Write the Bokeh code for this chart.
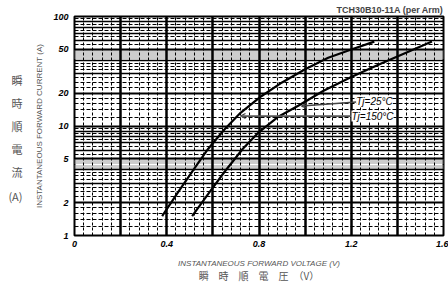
import numpy as np
from bokeh.plotting import figure
from bokeh.models import FixedTicker, Grid, Label, Arrow, OpenHead, Range1d, LinearAxis, Title
from bokeh.embed import file_html
from bokeh.resources import INLINE

# ---- data ----
v_150 = [0.38, 0.45, 0.52, 0.58, 0.65, 0.72, 0.81, 0.90, 1.00, 1.10, 1.20, 1.30]
i_150 = [1.5, 2.5, 4.1, 6.2, 9.3, 13.2, 18.7, 25.0, 33.0, 42.0, 50.0, 59.0]
v_25 = [0.51, 0.58, 0.65, 0.73, 0.80, 0.88, 0.97, 1.08, 1.20, 1.32, 1.44, 1.55]
i_25 = [1.5, 2.4, 3.8, 6.2, 8.8, 12.0, 15.3, 21.0, 28.0, 36.5, 47.0, 59.0]
x_ticks = [0, 0.4, 0.8, 1.2, 1.6]
y_ticks = [1, 2, 5, 10, 20, 50, 100]

p = figure(width=448, height=285, x_range=Range1d(0, 1.6), y_range=Range1d(1, 100),
           y_axis_type="log", output_backend="svg", toolbar_location=None,
           min_border_left=74, min_border_right=5, min_border_top=0, min_border_bottom=0)
p.outline_line_color = "black"
p.outline_line_width = 2
p.xgrid.visible = False
p.ygrid.visible = False

p.title = Title(text="TCH30B10-11A (per Arm)", align="right", text_font="Liberation Sans",
                text_font_style="bold", text_font_size="9px", standoff=4, offset=0)

# ---- grids ----
decades = [1, 10]
def mult(vals):
    return [d * v for d in decades for v in vals]

p.add_layout(Grid(dimension=1, ticker=FixedTicker(ticks=mult([4.1, 4.2, 4.3, 4.4, 4.5, 4.6, 4.7, 4.8, 4.9])),
                  grid_line_color="#9a9a9a", grid_line_width=1, grid_line_dash="1 1"))
p.add_layout(Grid(dimension=1, ticker=FixedTicker(ticks=mult([1.2, 1.4, 1.6, 1.8, 2.25, 2.5, 2.75, 3.25, 3.5, 3.75,
                                                             5.5, 6.5, 7.5, 8.5, 9.5])),
                  grid_line_color="black", grid_line_width=1, grid_line_dash="4 2"))
p.add_layout(Grid(dimension=1, ticker=FixedTicker(ticks=mult([3, 4, 6, 7, 8, 9])),
                  grid_line_color="black", grid_line_width=1.3))
p.add_layout(Grid(dimension=1, ticker=FixedTicker(ticks=mult([1, 2, 5]) + [100]),
                  grid_line_color="black", grid_line_width=2.2))
vmin = [round(0.04 * k, 2) for k in range(41) if k % 5 != 0]
p.add_layout(Grid(dimension=0, ticker=FixedTicker(ticks=vmin),
                  grid_line_color="black", grid_line_width=1, grid_line_dash="3 2"))
vmaj = [round(0.2 * k, 1) for k in range(9)]
p.add_layout(Grid(dimension=0, ticker=FixedTicker(ticks=vmaj),
                  grid_line_color="black", grid_line_width=2.5))

# ---- curves ----
p.line(v_150, i_150, line_color="black", line_width=2.2)
p.line(v_25, i_25, line_color="black", line_width=2.2)

# ---- axes ----
tick_font = "Liberation Sans"
p.xaxis.ticker = FixedTicker(ticks=x_ticks)
p.xaxis.major_label_overrides = {0: "0", 0.4: "0.4", 0.8: "0.8", 1.2: "1.2", 1.6: "1.6"}
p.yaxis.ticker = FixedTicker(ticks=y_ticks)
p.yaxis.major_label_overrides = {t: str(t) for t in y_ticks}
for ax in (p.xaxis, p.yaxis):
    ax.axis_line_color = None
    ax.major_tick_line_color = None
    ax.minor_tick_line_color = None
    ax.major_tick_out = 0
    ax.major_tick_in = 0
    ax.major_label_text_font = tick_font
    ax.major_label_text_font_style = "bold italic"
    ax.major_label_text_font_size = "9px"
    ax.major_label_text_color = "black"
    ax.axis_label_text_font = "Liberation Sans"
    ax.axis_label_text_font_size = "8px"
    ax.axis_label_text_color = "#555555"
p.xaxis.major_label_standoff = 5
p.yaxis.major_label_standoff = 6
p.yaxis.axis_label = "INSTANTANEOUS FORWARD CURRENT (A)"
p.yaxis.axis_label_text_font_style = "normal"
p.yaxis.axis_label_standoff = 6
p.xaxis.axis_label = "INSTANTANEOUS FORWARD VOLTAGE (V)"
p.xaxis.axis_label_text_font_style = "italic"
p.xaxis.axis_label_standoff = 9

cjk = "Noto Sans CJK JP"
def cjk_axis(label, **kw):
    ax = LinearAxis(ticker=FixedTicker(ticks=[]), axis_label=label, axis_line_color=None,
                    major_tick_line_color=None, minor_tick_line_color=None,
                    major_tick_in=0, major_tick_out=0, minor_tick_out=0, minor_tick_in=0,
                    axis_label_text_font=cjk, axis_label_text_font_size="11px",
                    axis_label_text_color="#555555", axis_label_text_font_style="normal", **kw)
    return ax

ay = cjk_axis("\n瞬\n時\n順\n電\n流\n(A)", axis_label_orientation="horizontal",
              axis_label_standoff=10, axis_label_text_line_height=1.45)
p.add_layout(ay, "left")
ax2 = cjk_axis("瞬　時　順　電　圧　（V）", axis_label_standoff=-3)
ax2.axis_label_text_font_size = "10px"
p.add_layout(ax2, "below")

# ---- leaders and curve labels ----
def px2x(px):
    return (px - 74) / 369 * 1.6
def py2y(py):
    return 10 ** ((237 - py) / 110.0)

p.add_layout(Arrow(x_start=px2x(356), y_start=py2y(103), x_end=px2x(301), y_end=py2y(107),
                   line_color="#444444", line_width=1.5, end=OpenHead(size=5, line_color="#444444", line_width=1.2)))
p.add_layout(Arrow(x_start=px2x(351), y_start=py2y(117), x_end=px2x(240), y_end=py2y(117),
                   line_color="#555555", line_width=1.8, end=OpenHead(size=5, line_color="#444444", line_width=1.2)))
for txt, px, py in [("Tj=25°C", 374, 102), ("Tj=150°C", 372, 117)]:
    p.add_layout(Label(x=px2x(px), y=py2y(py), text=txt, text_align="center", text_baseline="middle",
                       text_font="Liberation Sans", text_font_style="italic", text_font_size="10px",
                       text_color="black", background_fill_color="white"))

open("out.html", "w").write(file_html(p, INLINE))
